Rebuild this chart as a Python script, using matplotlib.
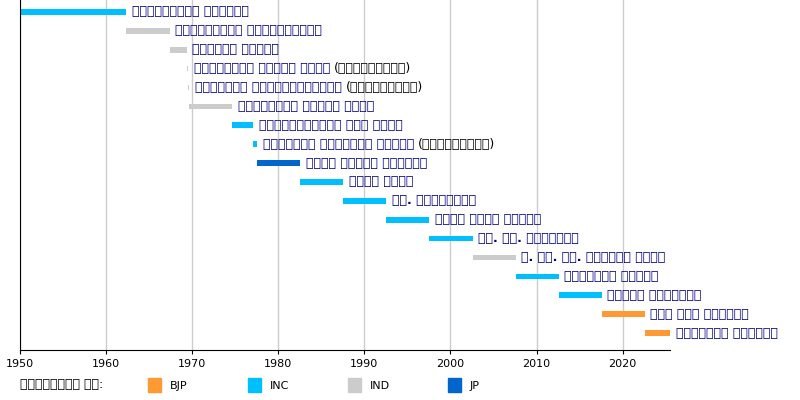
import matplotlib
matplotlib.use("Agg")
import matplotlib.pyplot as plt
from matplotlib.patches import Rectangle

# Presidents of India, term start / end (decimal years) and party
names = ['राजेन्द्र प्रसाद', 'सर्वपल्ली राधाकृष्णन', 'ज़ाकिर हुसैन',
         'वराहगिरी वेंकट गिरी', 'मोहम्मद हिदायतुल्लाह', 'वराहगिरी वेंकट गिरी',
         'फ़ख़रुद्दीन अली अहमद', 'बासप्पा दानप्पा जत्ती', 'नीलम संजीव रेड्डी',
         'ज़ैल सिंह', 'आर. वेंकटरमण', 'शंकर दयाल शर्मा', 'के. आर. नारायणन',
         'ए. पी. जे. अब्दुल कलाम', 'प्रतिभा पाटिल', 'प्रणब मुखर्जी',
         'राम नाथ कोविंद', 'द्रौपदी मुर्मू']
acting = [False, False, False, True, True, False, False, True, False,
          False, False, False, False, False, False, False, False, False]
starts = [1950.07, 1962.37, 1967.37, 1969.34, 1969.55, 1969.65, 1974.65, 1977.1, 1977.56,
          1982.56, 1987.56, 1992.56, 1997.56, 2002.56, 2007.56, 2012.56, 2017.56, 2022.56]
ends = [1962.37, 1967.37, 1969.34, 1969.55, 1969.65, 1974.65, 1977.1, 1977.56, 1982.56,
        1987.56, 1992.56, 1997.56, 2002.56, 2007.56, 2012.56, 2017.56, 2022.56, 2025.5]
parties = ['INC', 'IND', 'IND', 'IND', 'IND', 'IND', 'INC', 'INC', 'JP',
           'INC', 'INC', 'INC', 'INC', 'IND', 'INC', 'INC', 'BJP', 'BJP']
party_order = ['BJP', 'INC', 'IND', 'JP']
colors = {'BJP': '#ff9933', 'INC': '#00bfff', 'IND': '#cccccc', 'JP': '#0066cc'}
acting_label = '(कार्यवाहक)'
legend_title = 'राजनीतिक दल:'

fig = plt.figure(figsize=(8, 4), dpi=100)
ax = fig.add_axes([0.025, 0.125, 650 / 800, 0.875])
n = len(names)
for i in range(n):
    ax.barh(i, ends[i] - starts[i], left=starts[i], height=0.3,
            color=colors[parties[i]], zorder=2)
ax.set_xlim(1950, 2025.5)
ax.set_ylim(17.9, -0.63)
ax.set_xticks(range(1950, 2021, 10))
ax.grid(axis='x', color='#cccccc', lw=1, zorder=0)
ax.set_yticks([])
for s in ['top', 'right']:
    ax.spines[s].set_visible(False)
ax.tick_params(axis='x', labelsize=8, length=3)
ax.spines['left'].set_color('black')
ax.spines['bottom'].set_color('black')

fig.canvas.draw()
r = fig.canvas.get_renderer()
for i in range(n):
    t = ax.annotate(names[i], (ends[i], i), xytext=(4, 0), textcoords='offset points',
                    va='center', fontsize=9, fontweight='bold', color='#000080',
                    annotation_clip=False)
    if acting[i]:
        bb = t.get_window_extent(r)
        x, _ = ax.transData.inverted().transform((bb.x1, 0))
        ax.annotate(acting_label, (x, i), xytext=(3, 0), textcoords='offset points',
                    va='center', fontsize=9, color='black', annotation_clip=False)

fig.text(20 / 800, 1 - 385 / 400, legend_title, fontsize=9, va='center', color='black')
for k, p in enumerate(party_order):
    x0 = (148 + 100 * k) / 800
    fig.patches.append(Rectangle((x0, 1 - 392 / 400), 13 / 800, 14 / 400,
                                 transform=fig.transFigure, color=colors[p]))
    fig.text(x0 + 22 / 800, 1 - 386 / 400, p, fontsize=8, va='center')

fig.savefig('out.png', dpi=100)
